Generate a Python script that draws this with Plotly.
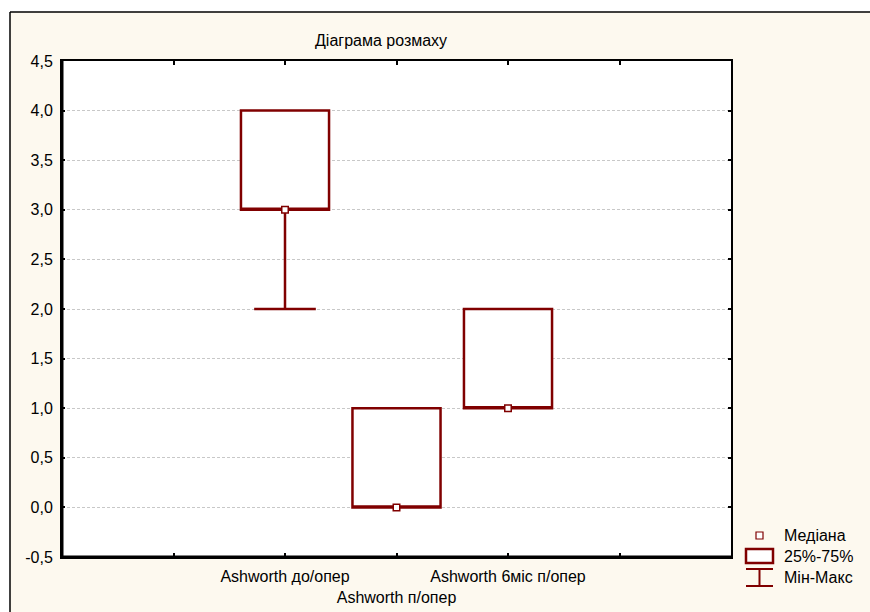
import plotly.graph_objects as go

# Range chart data (median, 25%-75% box, min-max whiskers)
positions = [2, 3, 4]
minimums = [2, 0, 1]
q1_values = [3, 0, 1]
medians = [3, 0, 1]
q3_values = [4, 1, 2]
maximums = [4, 1, 2]

x_tick_vals = [1, 2, 3, 4, 5]
x_tick_text = ["", "Ashworth до/опер", "<br>Ashworth п/опер", "Ashworth 6міс п/опер", ""]
y_tick_vals = [-0.5, 0, 0.5, 1, 1.5, 2, 2.5, 3, 3.5, 4, 4.5]
y_tick_text = ["-0,5", "0,0", "0,5", "1,0", "1,5", "2,0", "2,5", "3,0", "3,5", "4,0", "4,5"]

title_text = "Діаграма розмаху"
legend_labels = ["Медіана", "25%-75%", "Мін-Макс"]

DARK_RED = "#800000"
CREAM = "#fdf9ef"
FONT = "Liberation Sans, Arial, sans-serif"

W, H = 870, 612
L, R, T, B = 62, 139, 61, 55
pw, ph = W - L - R, H - T - B


def px(xp):
    return (xp - L) / pw


def py(yp):
    return (H - B - yp) / ph


fig = go.Figure()

fig.add_trace(go.Box(
    x=positions,
    q1=q1_values,
    median=medians,
    q3=q3_values,
    lowerfence=minimums,
    upperfence=maximums,
    width=0.79,
    whiskerwidth=0.7,
    boxpoints=False,
    fillcolor="white",
    line=dict(color=DARK_RED, width=2.5),
    showlegend=False,
    hoverinfo="skip",
))

fig.add_trace(go.Scatter(
    x=positions,
    y=medians,
    mode="markers",
    marker=dict(symbol="square", size=6.5, color="white",
                line=dict(color=DARK_RED, width=1.5)),
    showlegend=False,
    hoverinfo="skip",
))

shapes = [
    # white strips outside the outer frame
    dict(type="rect", xref="paper", yref="paper", layer="below",
         x0=px(-10), x1=px(900), y0=py(12), y1=py(-10),
         fillcolor="white", line=dict(width=0)),
    dict(type="rect", xref="paper", yref="paper", layer="below",
         x0=px(-10), x1=px(10), y0=py(640), y1=py(-10),
         fillcolor="white", line=dict(width=0)),
    # outer frame lines
    dict(type="line", xref="paper", yref="paper",
         x0=px(10), x1=px(900), y0=py(12), y1=py(12),
         line=dict(color="black", width=1.5)),
    dict(type="line", xref="paper", yref="paper",
         x0=px(10), x1=px(10), y0=py(12), y1=py(640),
         line=dict(color="black", width=1.5)),
    # heavier left and bottom axis lines
    dict(type="line", xref="paper", yref="paper",
         x0=0, x1=0, y0=0, y1=1, line=dict(color="black", width=3)),
    dict(type="line", xref="paper", yref="paper",
         x0=0, x1=1, y0=0, y1=0, line=dict(color="black", width=3)),
    # legend: box symbol
    dict(type="rect", xref="paper", yref="paper",
         x0=px(746), x1=px(773), y0=py(563), y1=py(549),
         fillcolor="white", line=dict(color=DARK_RED, width=2.5)),
    # legend: min-max symbol
    dict(type="line", xref="paper", yref="paper",
         x0=px(746), x1=px(773), y0=py(569), y1=py(569),
         line=dict(color=DARK_RED, width=2)),
    dict(type="line", xref="paper", yref="paper",
         x0=px(759.5), x1=px(759.5), y0=py(569), y1=py(586),
         line=dict(color=DARK_RED, width=2)),
    dict(type="line", xref="paper", yref="paper",
         x0=px(746), x1=px(773), y0=py(586), y1=py(586),
         line=dict(color=DARK_RED, width=2)),
    # legend: median symbol
    dict(type="rect", xref="paper", yref="paper",
         x0=px(756), x1=px(763), y0=py(539), y1=py(532),
         fillcolor="white", line=dict(color=DARK_RED, width=1.2)),
]

annotations = [
    dict(text=title_text, xref="paper", yref="paper", x=px(381), y=py(40),
         xanchor="center", yanchor="middle", showarrow=False,
         font=dict(size=16, color="black", family=FONT)),
]
for label, yp in zip(legend_labels, [535, 556, 577]):
    annotations.append(dict(text=label, xref="paper", yref="paper",
                            x=px(782), y=py(yp), xanchor="left", yanchor="middle",
                            showarrow=False,
                            font=dict(size=16, color="black", family=FONT)))

fig.update_layout(
    width=W, height=H,
    margin=dict(l=L, r=R, t=T, b=B, pad=0),
    paper_bgcolor=CREAM,
    plot_bgcolor="white",
    font=dict(family=FONT, size=16, color="black"),
    shapes=shapes,
    annotations=annotations,
    showlegend=False,
)

fig.update_xaxes(
    range=[0, 6],
    tickvals=x_tick_vals, ticktext=x_tick_text,
    tickangle=0, automargin=False, ticklabelstandoff=4,
    ticks="inside", ticklen=4, tickwidth=1.5, tickcolor="black",
    showline=True, linecolor="black", linewidth=2, mirror="allticks",
    showgrid=False, zeroline=False,
    tickfont=dict(size=16, family=FONT),
)
fig.update_yaxes(
    range=[-0.5, 4.5],
    tickvals=y_tick_vals, ticktext=y_tick_text,
    automargin=False, ticklabelstandoff=4,
    ticks="inside", ticklen=3, tickwidth=1.5, tickcolor="black",
    showline=True, linecolor="black", linewidth=2, mirror="allticks",
    showgrid=True, gridcolor="#c8c8c8", gridwidth=1, griddash="3px,2px",
    zeroline=False,
    tickfont=dict(size=16, family=FONT),
)

fig.write_html("out.html")
